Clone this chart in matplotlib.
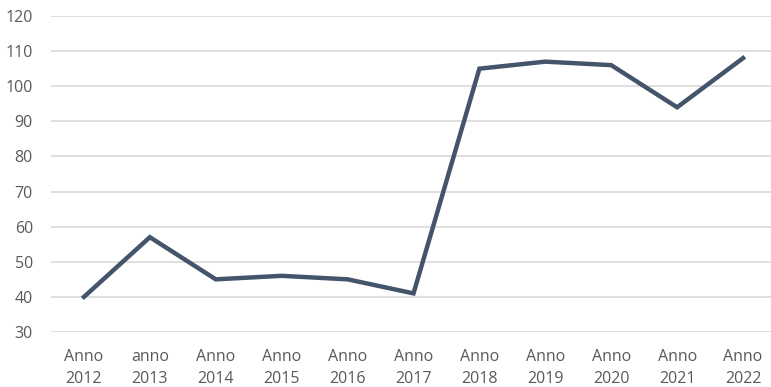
import matplotlib.pyplot as plt

years = ["2012", "2013", "2014", "2015", "2016", "2017", "2018", "2019", "2020", "2021", "2022"]
prefixes = ["Anno", "anno", "Anno", "Anno", "Anno", "Anno", "Anno", "Anno", "Anno", "Anno", "Anno"]
values = [40, 57, 45, 46, 45, 41, 105, 107, 106, 94, 108]
yticks = [30, 40, 50, 60, 70, 80, 90, 100, 110, 120]

plt.rcParams['font.family'] = ['Open Sans', 'DejaVu Sans']

fig = plt.figure(figsize=(7.71, 3.87), dpi=100)
ax = fig.add_axes([51/771, 1 - 332/387, 725/771, 316/387])

x = list(range(len(years)))
ax.plot(x, values, color='#44546A', lw=3.2, solid_joinstyle='miter', zorder=3)

ax.set_ylim(30, 120)
ax.set_xlim(-0.5, 10.5)
ax.set_yticks(yticks)
ax.set_xticks(x)
ax.set_xticklabels([p + "\n" + y for p, y in zip(prefixes, years)], linespacing=1.5)
ax.grid(axis='y', color='#d9d9d9', lw=1.2)
ax.set_axisbelow(True)
for s in ax.spines.values():
    s.set_visible(False)
ax.tick_params(length=0, colors='#595959', labelsize=11.5)
ax.tick_params(axis='y', pad=13)
ax.tick_params(axis='x', pad=12)

fig.savefig("out.png", dpi=100)
